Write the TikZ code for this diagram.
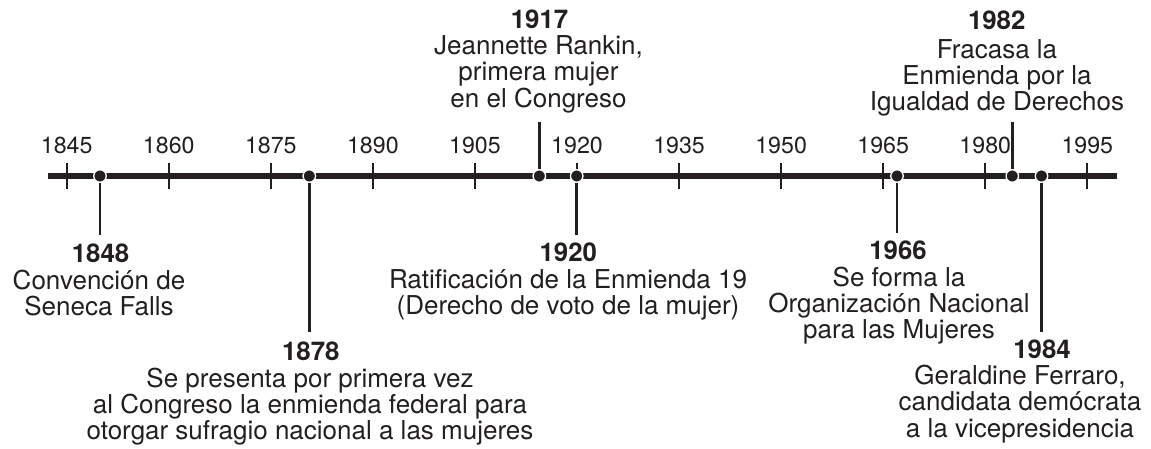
\documentclass[tikz,border=0pt]{standalone}
\usepackage{fontspec}
\setmainfont{TeX Gyre Heros}
\definecolor{ink}{HTML}{231F20}
\newcommand\evstrut{\rule{0pt}{20pt}}
\begin{document}
\setlength{\lineskiplimit}{-100pt}%
\begin{tikzpicture}[x=1pt,y=-1pt,
  axisline/.style={draw=ink, line width=5.5pt},
  tickline/.style={draw=ink, line width=2.2pt},
  stem/.style={draw=ink, line width=2.5pt},
  evdot/.style={circle, fill=ink, draw=white, line width=1.3pt, minimum size=12.5pt, inner sep=0pt},
  ticklabel/.style={font=\fontsize{23.2}{24}\selectfont, text=ink, anchor=base, inner sep=0pt},
  yearlabel/.style={font=\bfseries\fontsize{25.8}{26.2}\selectfont, text=ink, anchor=base, inner sep=0pt},
  evtext/.style={font=\fontsize{26}{26.2}\selectfont, text=ink, align=center, anchor=north, inner sep=0pt},
]
\path[use as bounding box] (0,0) rectangle (1151,449);
% axis
\coordinate (axL) at (48,176);
\coordinate (axR) at (1117,176);
\draw[axisline] (axL) -- (axR);
% ticks and labels
\foreach \i/\yr in {0/1845,1/1860,2/1875,3/1890,4/1905,5/1920,6/1935,7/1950,8/1965,9/1980,10/1995}{
  \coordinate (ta\i) at ({66.7+102.06*\i},163);
  \coordinate (tb\i) at ({66.7+102.06*\i},189);
  \draw[tickline] (ta\i) -- (tb\i);
  \node[ticklabel] (tl\i) at ({66.7+102.06*\i},154) {\yr};
}
% event dots
\node[evdot] (d1848) at (100,176) {};
\node[evdot] (d1878) at (309.3,176) {};
\node[evdot] (d1917) at (539.3,176) {};
\node[evdot] (d1920) at (576.7,176) {};
\node[evdot] (d1966) at (897,176) {};
\node[evdot] (d1982) at (1012.3,176) {};
\node[evdot] (d1984) at (1041.5,176) {};
% stem ends
\coordinate (e1848) at (100,235);
\coordinate (e1878) at (309.3,331.7);
\coordinate (e1917) at (539.3,121.7);
\coordinate (e1920) at (576.7,235);
\coordinate (e1966) at (897,232.7);
\coordinate (e1982) at (1012.3,121.7);
\coordinate (e1984) at (1041.5,331.7);
\foreach \e in {1848,1878,1917,1920,1966,1982,1984}{
  \draw[stem] (d\e) -- (e\e);
}
% years
\node[yearlabel] (y1848) at (100.5,262) {1848};
\node[yearlabel] (y1878) at (310.8,360.7) {1878};
\node[yearlabel] (y1917) at (539.5,28.3) {1917};
\node[yearlabel] (y1982) at (996.7,30) {1982};
\node[yearlabel] (y1920) at (568.3,261.7) {1920};
\node[yearlabel] (y1966) at (898,259.3) {1966};
\node[yearlabel] (y1984) at (1042,358.3) {1984};
% texts
\node[evtext] (t1848) at (99,269) {\evstrut Convención de\\Seneca Falls};
\node[evtext] (t1878) at (310,367.3) {\evstrut Se presenta por primera vez\\al Congreso la enmienda federal para\\otorgar sufragio nacional a las mujeres};
\node[evtext] (t1917) at (538.5,34.5) {\evstrut Jeannette Rankin,\\primera mujer\\en el Congreso};
\node[evtext] (t1982) at (997,38) {\evstrut Fracasa la\\Enmienda por la\\Igualdad de Derechos};
\node[evtext] (t1920) at (568,268.3) {\evstrut Ratificación de la Enmienda 19\\(Derecho de voto de la mujer)};
\node[evtext] (t1966) at (899,266) {\evstrut Se forma la\\Organización Nacional\\para las Mujeres};
\node[evtext] (t1984) at (1020,364.5) {\evstrut Geraldine Ferraro,\\candidata demócrata\\a la vicepresidencia};
\end{tikzpicture}
\end{document}
